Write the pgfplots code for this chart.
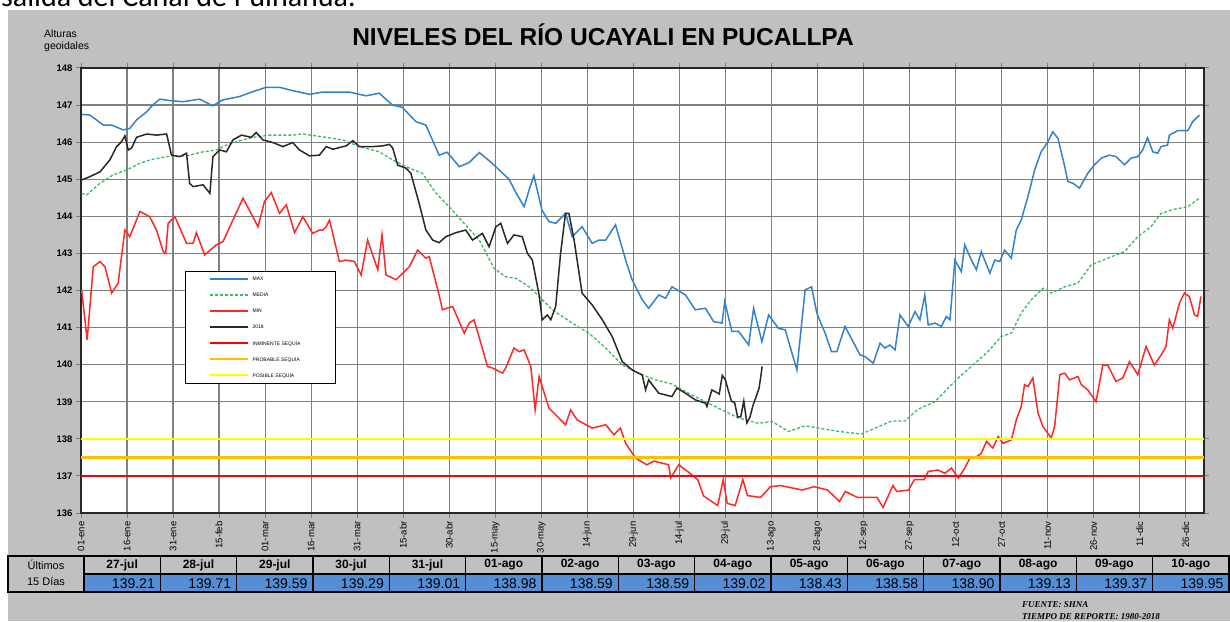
\documentclass[border=0pt]{standalone}
\usepackage{pgfplots}
\pgfplotsset{compat=1.18}
\usepackage{fontspec}
\setmainfont{Liberation Sans}
\newfontfamily\serifbi{Liberation Serif}
\newfontfamily\calibri{Carlito}
\definecolor{bggray}{RGB}{192,192,192}
\definecolor{gridgray}{RGB}{128,128,128}
\definecolor{cmax}{RGB}{50,130,205}
\definecolor{cmed}{RGB}{60,185,100}
\definecolor{cmin}{RGB}{255,40,40}
\definecolor{c2018}{RGB}{40,40,40}
\definecolor{sqred}{RGB}{255,0,0}
\definecolor{sqorange}{RGB}{255,192,0}
\definecolor{sqyellow}{RGB}{255,255,0}
\definecolor{tblblue}{RGB}{85,142,213}
\newcommand{\lline}[1]{{\color{#1}\rule[0.6pt]{38pt}{2pt}}}
\newcommand{\ldseg}{\rule[0.6pt]{3pt}{1.8pt}\hspace{2pt}}
\newcommand{\ldash}[1]{{\color{#1}\ldseg\ldseg\ldseg\ldseg\ldseg\ldseg\ldseg\rule[0.6pt]{3pt}{1.8pt}}}
\begin{document}
\begin{tikzpicture}
\begin{scope}[x=1pt,y=1pt]
\useasboundingbox (0,0) rectangle (1230,621);
\fill[white] (0,0) rectangle (1230,621);
\begin{scope}
\clip (0,613) rectangle (1230,621);
\node[anchor=base west,inner sep=0,font=\calibri\fontsize{30}{34}\selectfont] at (1,614) {salida del Canal de Puinahua.};
\end{scope}
\fill[bggray] (8,0) rectangle (1230,611);
\node[font=\bfseries\fontsize{24.5}{27}\selectfont] at (603,586) {NIVELES DEL RÍO UCAYALI EN PUCALLPA};
\node[anchor=north west,align=left,inner sep=0,font=\fontsize{10.5}{12}\selectfont] at (44,591) {Alturas\\geoidales};
\end{scope}
\begin{axis}[at={(81pt,108pt)},anchor=south west,width=1123pt,height=445pt,scale only axis,
  xmin=0,xmax=366,ymin=136,ymax=148,
  axis background/.style={fill=white},
  grid=major,major grid style={draw=gridgray,line width=1.2pt},
  axis line style={draw=black!85,line width=1.3pt},
  xtick={0,15,...,360},
  xticklabels={01-ene,16-ene,31-ene,15-feb,01-mar,16-mar,31-mar,15-abr,30-abr,15-may,30-may,14-jun,29-jun,14-jul,29-jul,13-ago,28-ago,12-sep,27-sep,12-oct,27-oct,11-nov,26-nov,11-dic,26-dic},
  ytick={136,137,...,148},
  tick align=outside,major tick length=5pt,
  tick style={draw=gridgray,line width=1pt},
  xticklabel style={rotate=90,anchor=east,font=\fontsize{9.5}{10}\selectfont},
  yticklabel style={font=\bfseries\fontsize{9.5}{11}\selectfont},
  /pgf/number format/assume math mode=true,
  legend cell align=left,
  legend image code/.code={},
  legend style={at={(rel axis cs:0.0926,0.5438)},anchor=north west,draw=black,line width=1.3pt,fill=white,
    font=\fontsize{5}{5}\selectfont,row sep=10pt,column sep=0pt,inner xsep=24pt,inner ysep=5pt,
    nodes={inner sep=0pt,minimum height=6pt}},
]
\addplot[cmax,line width=1.5pt] coordinates {
(0.2,146.75)(2.9,146.73)(7.3,146.46)(10.0,146.46)(13.8,146.33)(15.9,146.37)(18.1,146.6)(21.4,146.82)(23.4,147.0)(25.7,147.16)(29.0,147.12)(33.2,147.09)(38.7,147.16)(42.9,146.98)(46.2,147.14)(51.7,147.23)(55.9,147.36)(60.4,147.48)(64.7,147.48)(68.9,147.39)(74.5,147.29)(78.7,147.35)(87.5,147.35)(92.9,147.25)(97.2,147.32)(101.5,147.0)(104.7,146.94)(109.2,146.55)(112.4,146.46)(116.7,145.65)(119.3,145.73)(123.3,145.34)(126.5,145.45)(129.8,145.72)(133.0,145.5)(136.3,145.25)(139.5,145.0)(142.0,144.6)(144.4,144.26)(146.0,144.7)(147.6,145.1)(150.2,144.17)(152.5,143.86)(154.7,143.81)(157.9,144.08)(160.1,143.45)(163.3,143.72)(166.6,143.27)(168.8,143.36)(171.0,143.36)(174.2,143.77)(177.5,142.82)(179.6,142.29)(182.9,141.75)(185.0,141.52)(188.3,141.88)(190.5,141.79)(192.6,142.1)(197.0,141.88)(200.2,141.48)(203.5,141.52)(206.2,141.16)(208.9,141.12)(209.8,141.7)(212.1,140.9)(214.3,140.9)(217.6,140.53)(219.2,141.52)(221.9,140.62)(224.1,141.34)(227.3,140.98)(229.5,140.94)(233.3,139.86)(236.0,142.02)(238.1,142.1)(239.8,141.39)(242.5,140.85)(244.6,140.35)(246.3,140.35)(249.0,141.03)(253.9,140.26)(255.5,140.22)(258.2,140.04)(260.4,140.58)(262.0,140.45)(263.6,140.53)(265.3,140.40)(266.9,141.34)(269.6,141.03)(271.8,141.43)(273.4,141.21)(275.0,141.88)(276.1,141.07)(278.3,141.12)(280.4,141.03)(282.0,141.30)(283.2,141.21)(284.8,142.82)(286.9,142.51)(288.0,143.23)(290.2,142.82)(291.8,142.56)(293.4,143.05)(294.5,142.82)(296.2,142.47)(297.8,142.82)(299.4,142.78)(301.0,143.09)(303.2,142.87)(304.8,143.63)(306.4,143.90)(308.6,144.53)(310.8,145.25)(312.9,145.74)(315.1,146.01)(316.7,146.28)(318.4,146.10)(320.6,145.34)(321.6,144.94)(323.3,144.89)(325.4,144.76)(328.1,145.16)(330.3,145.39)(332.5,145.57)(335.2,145.65)(337.3,145.61)(340.1,145.39)(342.2,145.57)(344.4,145.61)(346.0,145.79)(347.6,146.12)(349.3,145.74)(350.9,145.70)(352.0,145.88)(354.1,145.92)(354.7,146.19)(357.4,146.31)(360.7,146.31)(362.3,146.55)(364.5,146.73)};
\addlegendentry{\lline{cmax}\hspace{5pt}\makebox[59pt][l]{MAX}}
\addplot[cmed,line width=1.3pt,dash pattern=on 3pt off 2pt] coordinates {
(0.2,144.62)(1.9,144.58)(6.2,144.89)(10.5,145.12)(14.9,145.25)(19.2,145.43)(22.4,145.52)(27.9,145.61)(34.4,145.63)(39.8,145.74)(44.1,145.79)(47.4,145.92)(51.7,146.04)(56.0,146.13)(61.5,146.19)(69.0,146.19)(72.3,146.22)(79.9,146.13)(85.3,146.06)(90.7,145.88)(97.2,145.74)(101.6,145.52)(107.0,145.30)(111.3,145.16)(115.7,144.62)(120.0,144.26)(123.3,143.95)(129.8,143.36)(134.6,142.6)(138.4,142.37)(141.7,142.33)(146.0,142.1)(149.3,141.84)(153.6,141.48)(160.1,141.12)(165.5,140.85)(171.0,140.45)(176.4,139.99)(181.8,139.77)(187.2,139.59)(192.6,139.48)(198.0,139.23)(203.5,139.0)(208.9,138.78)(214.3,138.56)(220.8,138.42)(225.1,138.47)(230.6,138.20)(236.0,138.35)(240.3,138.29)(246.8,138.2)(254.4,138.13)(258.8,138.29)(264.2,138.48)(268.5,138.48)(272.8,138.80)(278.3,139.0)(282.6,139.37)(285.9,139.64)(291.3,140.04)(295.6,140.35)(299.9,140.76)(303.2,140.85)(306.4,141.39)(309.7,141.75)(313.5,142.06)(316.2,141.93)(320.6,142.1)(324.9,142.2)(329.2,142.69)(334.6,142.87)(340.1,143.05)(344.4,143.45)(348.7,143.72)(352.0,144.08)(356.3,144.19)(360.7,144.26)(364.5,144.49)};
\addlegendentry{\ldash{cmed}\hspace{5pt}\makebox[59pt][l]{MEDIA}}
\addplot[cmin,line width=1.5pt] coordinates {
(0.2,142.02)(2.0,140.67)(4.0,142.64)(6.2,142.78)(7.8,142.64)(10.0,141.93)(12.1,142.2)(14.3,143.63)(15.9,143.45)(19.2,144.13)(22.4,143.99)(24.6,143.63)(26.8,143.05)(27.6,143.0)(28.4,143.81)(30.6,143.99)(34.4,143.27)(36.5,143.27)(37.6,143.56)(40.3,142.96)(44.1,143.23)(46.3,143.32)(49.5,143.9)(52.8,144.49)(57.7,143.72)(59.8,144.40)(62.0,144.64)(64.7,144.08)(66.9,144.31)(69.6,143.56)(72.3,143.99)(75.5,143.54)(77.7,143.63)(78.8,143.63)(79.9,143.72)(81.0,143.9)(84.2,142.78)(86.4,142.82)(89.1,142.78)(91.3,142.42)(93.4,143.36)(96.7,142.56)(98.1,143.5)(99.4,142.42)(102.7,142.29)(107.0,142.64)(109.7,143.09)(112.4,142.87)(113.5,142.91)(116.7,141.88)(117.8,141.48)(121.1,141.57)(124.9,140.85)(126.5,141.12)(128.1,141.21)(132.5,139.95)(134.1,139.91)(137.4,139.77)(138.4,139.91)(141.1,140.45)(142.8,140.35)(144.4,140.4)(146.6,139.95)(148.0,138.78)(149.3,139.68)(152.5,138.83)(157.9,138.38)(159.6,138.78)(161.7,138.51)(166.6,138.29)(171.0,138.38)(173.7,138.11)(175.8,138.29)(177.5,137.88)(180.7,137.48)(184.4,137.3)(186.7,137.4)(191.5,137.3)(192.2,136.95)(194.8,137.3)(198.0,137.1)(201.0,136.9)(202.9,136.46)(207.5,136.2)(209.3,136.9)(210.6,136.26)(213.2,136.2)(215.7,136.9)(217.2,136.47)(221.5,136.42)(224.7,136.71)(228.0,136.74)(235.0,136.62)(238.9,136.71)(243.3,136.62)(247.2,136.31)(249.1,136.58)(253.0,136.42)(259.4,136.42)(261.4,136.15)(264.6,136.74)(265.9,136.58)(269.7,136.62)(271.6,136.9)(274.8,136.9)(276.1,137.12)(279.3,137.16)(281.5,137.07)(283.7,137.21)(285.9,136.94)(288.0,137.21)(289.7,137.48)(291.3,137.48)(293.4,137.61)(295.1,137.93)(297.2,137.75)(298.9,138.06)(300.5,137.88)(303.2,137.97)(304.8,138.51)(306.4,138.87)(307.5,139.46)(308.6,139.41)(310.2,139.64)(311.9,138.69)(313.5,138.33)(316.2,138.02)(317.3,138.33)(319.0,139.73)(320.6,139.77)(322.2,139.59)(324.9,139.68)(326.0,139.46)(328.1,139.32)(330.8,139.0)(333.0,139.99)(334.6,139.99)(337.3,139.55)(339.5,139.64)(341.7,140.08)(344.4,139.73)(347.1,140.49)(349.8,139.99)(352.0,140.26)(353.6,140.49)(354.7,141.21)(355.8,140.98)(358.0,141.66)(359.6,141.93)(361.2,141.84)(362.9,141.34)(363.9,141.30)(365.0,141.84)};
\addlegendentry{\lline{cmin}\hspace{5pt}\makebox[59pt][l]{MIN}}
\addplot[c2018,line width=1.5pt] coordinates {
(0.2,144.98)(2.9,145.07)(6.2,145.2)(9.4,145.52)(11.6,145.88)(13.2,146.01)(14.3,146.17)(15.4,145.79)(16.5,145.84)(18.1,146.13)(21.4,146.22)(24.6,146.19)(27.9,146.22)(29.5,145.65)(32.2,145.61)(34.4,145.70)(35.4,144.89)(36.5,144.8)(39.8,144.85)(42.0,144.62)(43.0,145.61)(45.2,145.79)(47.4,145.74)(49.5,146.06)(52.3,146.19)(55.5,146.13)(57.1,146.26)(59.3,146.06)(62.5,145.99)(65.8,145.88)(69.0,145.99)(71.2,145.79)(74.5,145.63)(77.7,145.65)(79.9,145.88)(82.1,145.81)(86.4,145.90)(88.6,146.04)(90.7,145.88)(95.1,145.88)(98.3,145.90)(100.5,145.94)(101.6,145.84)(103.2,145.38)(105.9,145.30)(107.5,145.16)(110.2,144.35)(112.4,143.63)(114.6,143.36)(116.7,143.29)(118.9,143.45)(122.2,143.56)(125.4,143.63)(127.6,143.36)(130.8,143.54)(133.0,143.18)(135.2,143.72)(136.8,143.81)(139.0,143.27)(141.1,143.5)(143.8,143.45)(145.5,143.0)(147.1,142.82)(149.3,141.88)(150.3,141.21)(152.0,141.34)(153.1,141.21)(154.7,141.57)(156.3,143.0)(157.9,144.08)(159.0,144.08)(160.7,143.36)(163.3,141.93)(166.6,141.61)(169.9,141.21)(173.1,140.76)(176.4,140.08)(179.6,139.86)(182.9,139.72)(184.0,139.32)(185.0,139.59)(188.3,139.23)(192.6,139.14)(194.2,139.37)(197.0,139.23)(200.2,139.05)(203.5,138.96)(204.0,138.87)(205.6,139.32)
(208,139.21)(209,139.71)(210,139.59)(211,139.29)(212,139.01)(213,138.98)(214,138.59)(215,138.59)(216,139.02)(217,138.43)(218,138.58)(219,138.90)(220,139.13)(221,139.37)(222,139.95)};
\addlegendentry{\lline{c2018}\hspace{5pt}\makebox[59pt][l]{2018}}
\addplot[sqred,line width=2.5pt] coordinates {(0,137)(366,137)};
\addlegendentry{\lline{sqred}\hspace{5pt}\makebox[59pt][l]{INMINENTE SEQUÍA}}
\addplot[sqorange,line width=2.5pt] coordinates {(0,137.5)(366,137.5)};
\addlegendentry{\lline{sqorange}\hspace{5pt}\makebox[59pt][l]{PROBABLE SEQUÍA}}
\addplot[sqyellow,line width=2.5pt] coordinates {(0,138)(366,138)};
\addlegendentry{\lline{sqyellow}\hspace{5pt}\makebox[59pt][l]{POSIBLE SEQUÍA}}
\end{axis}
\begin{scope}[x=1pt,y=1pt]
\filldraw[fill=bggray,draw=black,line width=1.3pt] (8,29) rectangle (84,65);
\node[font=\fontsize{11}{12}\selectfont] at (46,56) {Últimos};
\node[font=\fontsize{11}{12}\selectfont] at (46,39) {15 Días};
\foreach \d/\v [count=\i from 0] in {27-jul/139.21,28-jul/139.71,29-jul/139.59,30-jul/139.29,31-jul/139.01,01-ago/138.98,02-ago/138.59,03-ago/138.59,04-ago/139.02,05-ago/138.43,06-ago/138.58,07-ago/138.90,08-ago/139.13,09-ago/139.37,10-ago/139.95}{
  \filldraw[fill=bggray,draw=black,line width=1.3pt] ({84+\i*76.33},47) rectangle ({84+(\i+1)*76.33},65);
  \filldraw[fill=tblblue,draw=black,line width=1.3pt] ({84+\i*76.33},29) rectangle ({84+(\i+1)*76.33},47);
  \node[font=\bfseries\fontsize{12}{13}\selectfont] at ({84+(\i+0.5)*76.33},56) {\d};
  \node[anchor=east,font=\fontsize{14}{15}\selectfont] at ({84+(\i+1)*76.33-2},37.5) {\v};
}
\node[anchor=west,inner sep=0,font=\serifbi\bfseries\itshape\fontsize{9}{9}\selectfont] at (1022,16) {FUENTE: SHNA};
\node[anchor=west,inner sep=0,font=\serifbi\bfseries\itshape\fontsize{9}{9}\selectfont] at (1022,4) {TIEMPO DE REPORTE: 1980-2018};
\end{scope}
\end{tikzpicture}
\end{document}
